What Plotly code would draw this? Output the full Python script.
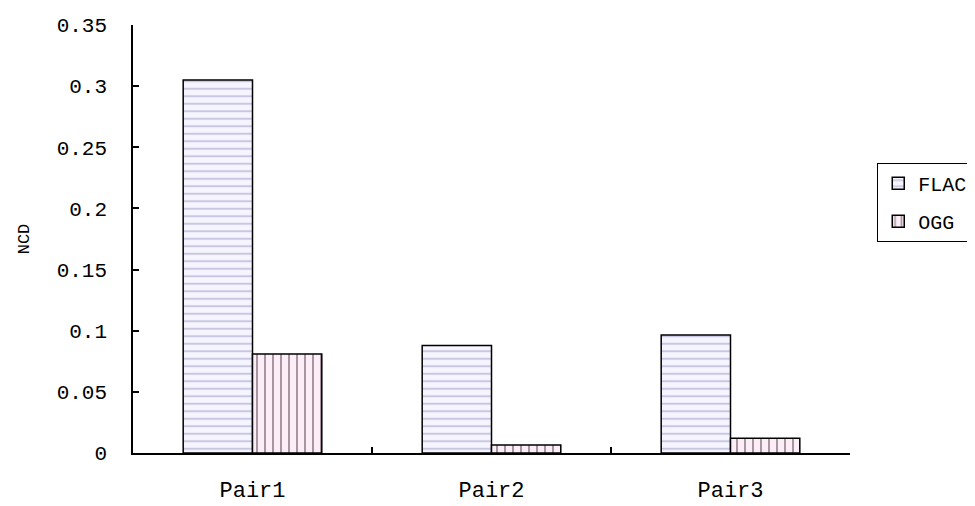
import plotly.graph_objects as go

categories = ["Pair1", "Pair2", "Pair3"]
flac_values = [0.305, 0.088, 0.0965]
ogg_values = [0.081, 0.0065, 0.012]
y_tick_values = [0, 0.05, 0.1, 0.15, 0.2, 0.25, 0.3, 0.35]
y_tick_labels = ["0", "0.05", "0.1", "0.15", "0.2", "0.25", "0.3", "0.35"]

FONT = "Liberation Mono"

fig = go.Figure()
fig.add_trace(go.Bar(
    x=categories, y=flac_values, name="FLAC", legendgroup="a",
    marker=dict(
        color="#f6f5ff",
        line=dict(color="black", width=1.5),
        pattern=dict(shape="-", fgcolor="#9a9ac4", bgcolor="#f6f5ff", size=7.5, solidity=0.28),
    ),
))
fig.add_trace(go.Bar(
    x=categories, y=ogg_values, name="OGG", legendgroup="b",
    marker=dict(
        color="#fbeef6",
        line=dict(color="black", width=1.5),
        pattern=dict(shape="|", fgcolor="#5a3a4c", bgcolor="#fbeef6", size=8, solidity=0.25),
    ),
))

fig.update_layout(
    width=975, height=506,
    margin=dict(l=125, r=133, t=17, b=61, autoexpand=False),
    paper_bgcolor="white", plot_bgcolor="white",
    barmode="group", bargap=0.42, bargroupgap=0,
    font=dict(family=FONT, size=20, color="black"),
    showlegend=True,
    legend=dict(
        x=1.038, xanchor="left", y=0.678, yanchor="top",
        bordercolor="black", borderwidth=1, bgcolor="white",
        font=dict(family=FONT, size=20, color="black"),
        itemwidth=30,
        tracegroupgap=9, traceorder="grouped",
    ),
    xaxis=dict(
        automargin=False,
        showline=True, linecolor="black", linewidth=1.5,
        ticks="inside", ticklen=6, tickcolor="black", tickwidth=1.5,
        tickson="boundaries", showgrid=False,
        tickfont=dict(family=FONT, size=22),
        ticklabelstandoff=16,
    ),
    yaxis=dict(
        automargin=False,
        range=[0, 0.35], tickvals=y_tick_values, ticktext=y_tick_labels,
        showline=True, linecolor="black", linewidth=1.5,
        ticks="inside", ticklen=6, tickcolor="black", tickwidth=1.5,
        showgrid=False, zeroline=False,
        tickfont=dict(family=FONT, size=21),
        ticklabelstandoff=20,
        title=dict(text="NCD", font=dict(family=FONT, size=17), standoff=23),
    ),
)

fig.write_html("out.html")
